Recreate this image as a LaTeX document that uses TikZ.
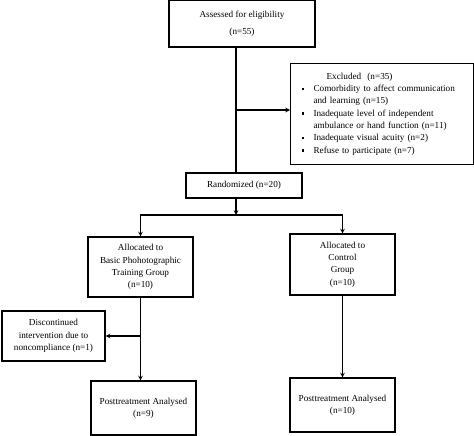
\documentclass[tikz,border=0pt]{standalone}
\usepackage{fontspec}
\setmainfont{Liberation Serif}
\usetikzlibrary{positioning, arrows, calc}

\tikzset{
  box/.style={draw, line width=1.1pt, align=center, inner sep=2pt,
    font=\fontsize{9.2}{12.3}\selectfont},
}
\newcommand{\bul}{\makebox[12pt][l]{\rule[1.5pt]{2.4pt}{2.4pt}}}

\begin{document}
\begin{tikzpicture}[x=1pt,y=1pt,>=stealth,line width=1.1pt]
    \useasboundingbox (0,0) rectangle (474,-436);
    \node [box, minimum width=146pt, minimum height=47pt] (assess) at (242,-23.5)
      {Assessed for eligibility\\[5pt](n=55)};
    \node [box, anchor=north west, minimum width=183pt, minimum height=101pt,
      text width=161pt, inner xsep=11pt, align=left] (excl) at (290,-63)
      {\hspace*{25pt}Excluded\ \ (n=35)\\
       \bul Comorbidity to affect communication\\
       \hspace*{12pt}and learning (n=15)\\
       \bul Inadequate level of independent\\
       \hspace*{12pt}ambulance or hand function (n=11)\\
       \bul Inadequate visual acuity (n=2)\\
       \bul Refuse to participate (n=7)};
    \node [box, minimum width=116pt, minimum height=25pt] (rand) at (244,-185.5)
      {Randomized (n=20)};
    \node [box, minimum width=105pt, minimum height=60pt] (allocB) at (140.5,-267)
      {Allocated to\\Basic Phohotographic\\Training Group\\(n=10)};
    \node [box, minimum width=105pt, minimum height=61pt] (allocC) at (342.5,-264.5)
      {Allocated to\\Control\\Group\\(n=10)};
    \node [box, minimum width=103pt, minimum height=50pt] (disc) at (53.5,-336)
      {Discontinued\\intervention due to\\noncompliance (n=1)};
    \node [box, minimum width=105pt, minimum height=54pt] (postB) at (143.5,-408)
      {Posttreatment Analysed\\(n=9)};
    \node [box, minimum width=105pt, minimum height=54pt] (postC) at (342.5,-405)
      {Posttreatment Analysed\\(n=10)};

    \coordinate (trunk) at (236,-110);
    \coordinate (split) at (236,-215);

    \draw (assess.south -| trunk) -- (rand.north -| trunk);
    \draw [->] (trunk) -- (trunk -| excl.west);
    \draw [->] (rand.south -| split) -- (split);
    \draw [->] (split) -| (allocB.north);
    \draw [->] (split) -| (allocC.north);
    \draw [->] (allocB.south) -- (allocB.south |- postB.north);
    \draw [->] (allocB.south |- disc.east) -- (disc.east);
    \draw [->] (allocC) -- (postC);
  \end{tikzpicture}
\end{document}
